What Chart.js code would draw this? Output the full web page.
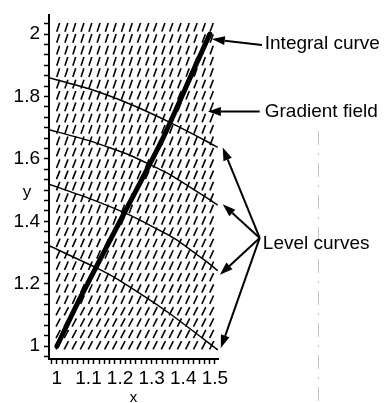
<!DOCTYPE html>
<html>
<head>
<meta charset="utf-8">
<script src="https://cdn.jsdelivr.net/npm/chart.js@4.4.1/dist/chart.umd.min.js"></script>
<style>
  html, body { margin: 0; padding: 0; background: #fff; }
  canvas { display: block; }
</style>
</head>
<body>
<canvas id="fieldChart" width="385" height="403"></canvas>
<script>
// tick labels
const xLabels = [1, 1.1, 1.2, 1.3, 1.4, 1.5];
const yLabels = [1, 1.2, 1.4, 1.6, 1.8, 2];

// integral curve starting at (1,1)
const integralX = [1.0, 1.073, 1.215, 1.335, 1.43, 1.484];
const integralY = [1.0, 1.153, 1.43, 1.665, 1.879, 2.0];

// level curves
const level1X = [0.975, 1.104, 1.231, 1.358, 1.475, 1.509];
const level1Y = [1.860, 1.824, 1.776, 1.717, 1.656, 1.637];
const level2X = [0.975, 1.104, 1.231, 1.358, 1.475, 1.509];
const level2Y = [1.694, 1.658, 1.612, 1.550, 1.475, 1.452];
const level3X = [0.975, 1.104, 1.231, 1.373, 1.475, 1.509];
const level3Y = [1.519, 1.473, 1.420, 1.345, 1.270, 1.242];
const level4X = [0.975, 1.127, 1.199, 1.358, 1.51];
const level4Y = [1.322, 1.250, 1.210, 1.104, 0.988];

// gradient field grid
const fieldX = [1.004, 1.030, 1.055, 1.081, 1.106, 1.132, 1.158, 1.183, 1.209, 1.234,
                1.260, 1.286, 1.311, 1.337, 1.362, 1.388, 1.414, 1.439, 1.465, 1.490];
const fieldY = [1.003, 1.039, 1.076, 1.112, 1.149, 1.185, 1.221, 1.258, 1.294, 1.331,
                1.367, 1.403, 1.440, 1.476, 1.513, 1.549, 1.585, 1.622, 1.658, 1.695,
                1.731, 1.767, 1.804, 1.840, 1.877, 1.913, 1.949, 1.986, 2.022];
// slope of the field dashes, read per band (left half / right half)
const slopeBandY = [1.0, 1.25, 1.5, 1.75, 2.0];
const slopeLeft = [1.9, 2.3, 2.6, 2.9, 3.1];
const slopeRight = [2.0, 2.2, 2.4, 2.6, 2.8];

function pairs(xs, ys) {
    return xs.map((x, i) => ({ x: x, y: ys[i] }));
}

const fieldPoints = [];
fieldY.forEach(y => fieldX.forEach(x => fieldPoints.push({ x: x, y: y })));

function fieldSlope(x, y) {
    let best = 0;
    slopeBandY.forEach((b, i) => {
        if (Math.abs(b - y) < Math.abs(slopeBandY[best] - y)) best = i;
    });
    return x < 1.25 ? slopeLeft[best] : slopeRight[best];
}

function tickList(min, max, step) {
    const out = [];
    const k0 = Math.ceil(min / step - 1e-9);
    const k1 = Math.floor(max / step + 1e-9);
    for (let k = k0; k <= k1; k++) out.push({ value: k * step });
    return out;
}

function labelFor(list) {
    return function (value) {
        const hit = list.find(l => Math.abs(l - value) < 1e-6);
        return hit === undefined ? '' : String(hit);
    };
}

const FONT = "'Liberation Sans', Arial, Helvetica, sans-serif";

// annotation text + arrows (in data units)
const notes = [
    { text: 'Integral curve', at: [1.658, 1.968], from: [1.649, 1.965], tips: [[1.4905, 1.984]] },
    { text: 'Gradient field', at: [1.658, 1.752], from: [1.642, 1.752], tips: [[1.478, 1.752]] },
    { text: 'Level curves', at: [1.652, 1.328], from: [1.642, 1.347],
      tips: [[1.525, 1.637], [1.525, 1.455], [1.516, 1.229], [1.519, 0.994]] }
];

function drawArrow(ctx, x0, y0, x1, y1) {
    const ang = Math.atan2(y1 - y0, x1 - x0);
    const head = 13, half = 4.5;
    const bx = x1 - Math.cos(ang) * head, by = y1 - Math.sin(ang) * head;
    ctx.beginPath();
    ctx.moveTo(x0, y0);
    ctx.lineTo(bx, by);
    ctx.stroke();
    ctx.beginPath();
    ctx.moveTo(x1, y1);
    ctx.lineTo(bx + Math.sin(ang) * half, by - Math.cos(ang) * half);
    ctx.lineTo(bx - Math.sin(ang) * half, by + Math.cos(ang) * half);
    ctx.closePath();
    ctx.fill();
}

const notesPlugin = {
    id: 'notes',
    afterDraw(chart) {
        const ctx = chart.ctx;
        const xs = chart.scales.x, ys = chart.scales.y;
        const area = chart.chartArea;
        ctx.save();

        // faint vertical guide on the right
        ctx.strokeStyle = '#c4c4c4';
        ctx.lineWidth = 1;
        ctx.setLineDash([14, 8, 2, 8]);
        const gx = Math.round(xs.getPixelForValue(1.826)) + 0.5;
        ctx.beginPath();
        ctx.moveTo(gx, ys.getPixelForValue(1.69));
        ctx.lineTo(gx, chart.height);
        ctx.stroke();
        ctx.setLineDash([]);

        ctx.fillStyle = '#000';
        ctx.strokeStyle = '#000';
        ctx.lineWidth = 2;
        ctx.font = '19px ' + FONT;
        ctx.textBaseline = 'middle';
        ctx.textAlign = 'left';
        notes.forEach(n => {
            ctx.fillText(n.text, xs.getPixelForValue(n.at[0]), ys.getPixelForValue(n.at[1]));
            const fx = xs.getPixelForValue(n.from[0]), fy = ys.getPixelForValue(n.from[1]);
            n.tips.forEach(t => drawArrow(ctx, fx, fy, xs.getPixelForValue(t[0]), ys.getPixelForValue(t[1])));
        });

        // axis names
        ctx.textAlign = 'center';
        ctx.font = '17px ' + FONT;
        ctx.fillText('y', 27, (area.top + area.bottom) / 2 + 5);
        ctx.font = '15px ' + FONT;
        ctx.fillText('x', (area.left + area.right) / 2, 398);
        ctx.restore();
    }
};

const axisGrid = {
    drawOnChartArea: false,
    drawTicks: true,
    tickLength: 5,
    tickColor: '#000',
    tickWidth: 1.5
};

new Chart(document.getElementById('fieldChart'), {
    type: 'scatter',
    data: {
        datasets: [
            {
                data: pairs(integralX, integralY),
                showLine: true, borderColor: '#000', borderWidth: 5,
                pointRadius: 0, tension: 0.25, borderCapStyle: 'round'
            },
            { data: pairs(level1X, level1Y), showLine: true, borderColor: '#000', borderWidth: 1.5, pointRadius: 0, tension: 0.15 },
            { data: pairs(level2X, level2Y), showLine: true, borderColor: '#000', borderWidth: 1.5, pointRadius: 0, tension: 0.15 },
            { data: pairs(level3X, level3Y), showLine: true, borderColor: '#000', borderWidth: 1.5, pointRadius: 0, tension: 0.15 },
            { data: pairs(level4X, level4Y), showLine: true, borderColor: '#000', borderWidth: 1.5, pointRadius: 0, tension: 0.15 },
            {
                data: fieldPoints,
                showLine: false,
                pointStyle: 'line',
                pointRadius: 4.6,
                pointBorderWidth: 1.6,
                pointBorderColor: '#000',
                pointRotation: function (c) {
                    const p = c.raw, xs = c.chart.scales.x, ys = c.chart.scales.y;
                    const s = fieldSlope(p.x, p.y);
                    const dx = xs.getPixelForValue(1.1) - xs.getPixelForValue(1);
                    const dy = ys.getPixelForValue(1 + 0.1 * s) - ys.getPixelForValue(1);
                    return Math.atan2(dy, dx) * 180 / Math.PI;
                }
            }
        ]
    },
    options: {
        responsive: false,
        animation: false,
        events: [],
        layout: { padding: { top: 13, right: 167, left: 0, bottom: 0 } },
        plugins: { legend: { display: false }, tooltip: { enabled: false } },
        scales: {
            x: {
                type: 'linear', min: 0.975, max: 1.51,
                afterFit: function (s) { s.height = 44; },
                afterBuildTicks: function (s) { s.ticks = tickList(s.min, s.max, 1 / 60); },
                ticks: {
                    autoSkip: false, maxRotation: 0, minRotation: 0, padding: 3,
                    color: '#000', font: { family: FONT, size: 19 },
                    callback: labelFor(xLabels)
                },
                grid: axisGrid,
                border: { display: true, color: '#000', width: 2 }
            },
            y: {
                type: 'linear', min: 0.959, max: 2.06,
                afterFit: function (s) { s.width = 49; },
                afterBuildTicks: function (s) { s.ticks = tickList(s.min, s.max, 1 / 30); },
                ticks: {
                    autoSkip: false, padding: 4,
                    color: '#000', font: { family: FONT, size: 19 },
                    callback: labelFor(yLabels)
                },
                grid: axisGrid,
                border: { display: true, color: '#000', width: 2 }
            }
        }
    },
    plugins: [notesPlugin]
});
</script>
</body>
</html>
